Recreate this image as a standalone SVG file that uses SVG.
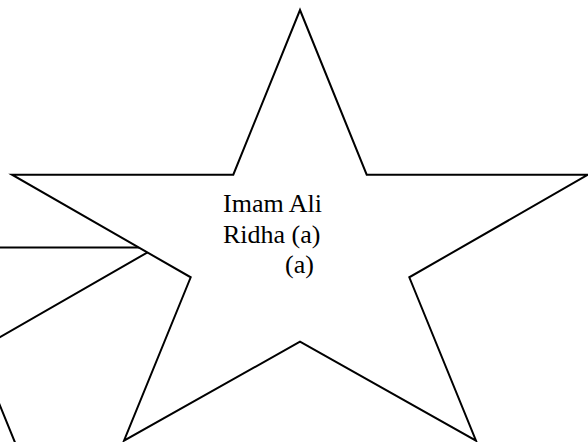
<svg xmlns="http://www.w3.org/2000/svg" width="588" height="442" viewBox="0 0 588 442">
  <defs>
    <style>
      .star { fill: #ffffff; stroke: #000000; stroke-width: 2; stroke-linejoin: miter; }
      .label { font-family: "Liberation Serif", "Times New Roman", serif; font-size: 26px; fill: #000000; }
    </style>
    <polygon id="starShape" points="300,10 366.7,174.7 588,174.7 409.3,277.3 476,440.7 300,341.7 124,440.7 190.7,277.3 12,174.7 233.3,174.7"/>
  </defs>
  <rect x="0" y="0" width="588" height="442" fill="#ffffff"/>
  <g id="star-back">
    <use href="#starShape" class="star" transform="translate(-432,72.8)"/>
  </g>
  <g id="star-main">
    <use href="#starShape" class="star"/>
    <text class="label" x="223" y="211.7">Imam Ali</text>
    <text class="label" x="223" y="243.3">Ridha (a)</text>
    <text class="label" x="285" y="273.3">(a)</text>
  </g>
</svg>
